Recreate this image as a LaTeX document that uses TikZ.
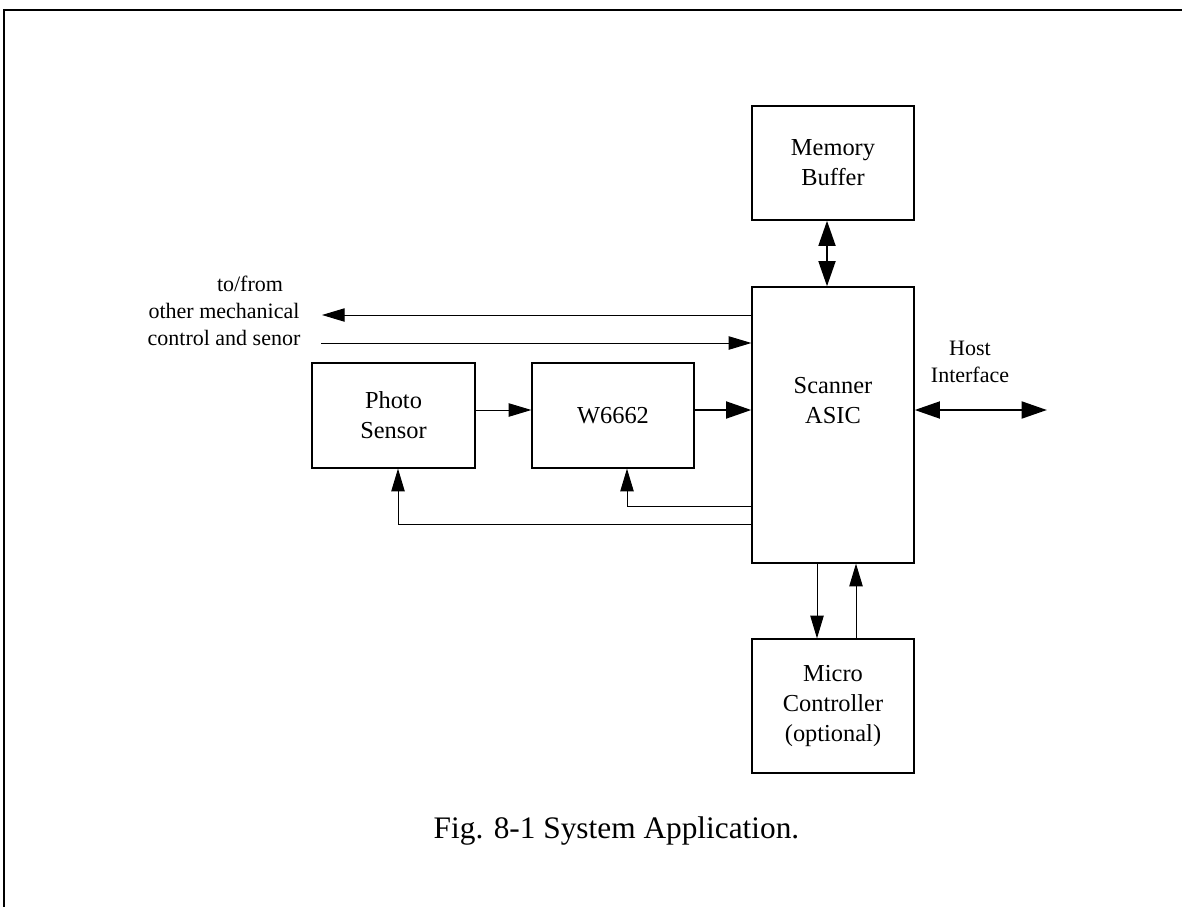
\documentclass[tikz,border=0pt]{standalone}
\usepackage{fontspec}
\setmainfont{Liberation Serif}
\usetikzlibrary{arrows.meta,calc}
\begin{document}
\begin{tikzpicture}[x=0.75pt,y=-0.75pt,
  box/.style={draw,line width=0.9pt,inner sep=0pt,align=center,font=\fontsize{18.3}{22.5}\selectfont},
  lbl/.style={align=center,font=\fontsize{16.5}{20}\selectfont,inner sep=0pt},
  thinarr/.style={line width=0.75pt,-{Triangle[length=17pt,width=10pt]}},
  thickarr/.style={line width=2.2pt,-{Triangle[length=19pt,width=12.5pt]}},
  dblarr/.style={line width=2.2pt,{Triangle[length=19pt,width=12.5pt]}-{Triangle[length=19pt,width=12.5pt]}}
]
\useasboundingbox (0,0) rectangle (1182,907);
\fill[white] (0,0) rectangle (1182,907);
% frame
\draw[line width=1.5pt] (3.5,907) -- (3.5,10) -- (1182,10);
% boxes
\node[box,minimum width=121.5pt,minimum height=85.5pt] (mem) at (833,163) {Memory\\Buffer};
\node[box,minimum width=121.5pt,minimum height=207pt] (asic) at (833,425) {};
\node[lbl,font=\fontsize{18.3}{22.5}\selectfont] (asiclbl) at (833,401) {Scanner\\ASIC};
\node[box,minimum width=121.5pt,minimum height=100.5pt] (micro) at (833,706) {Micro\\Controller\\(optional)};
\node[box,minimum width=122.25pt,minimum height=78.75pt] (photo) at (393.5,415.5) {Photo\\Sensor};
\node[box,minimum width=121.5pt,minimum height=78.75pt] (w) at (613,415.5) {W6662};
% labels
\node[lbl] (ext) at (224,311) {\hspace*{39pt}to/from\\other mechanical\\control and senor};
\node[lbl] (host) at (970,362) {Host\\Interface};
\node[inner sep=0pt,anchor=base,font=\fontsize{23.5}{28}\selectfont] (cap) at (616.5,838) {Fig. 8-1 System Application.};
% coordinates
\coordinate (extL) at (322,315);
\coordinate (extR) at (321,343);
\coordinate (sig) at (0,410);
\coordinate (hostend) at (1047,410);
\coordinate (fbw) at (627,506);
\coordinate (fbp) at (398,524);
\coordinate (dnx) at (817,0);
\coordinate (upx) at (856,0);
\coordinate (memx) at (827,0);
% connectors
\draw[dblarr] (memx |- mem.south) -- (memx |- asic.north);
\draw[thinarr] (extL -| asic.west) -- (extL);
\draw[thinarr] (extR) -- (extR -| asic.west);
\draw[thinarr] (sig -| photo.east) -- (sig -| w.west);
\draw[thickarr] (sig -| w.east) -- (sig -| asic.west);
\draw[dblarr] (sig -| asic.east) -- (hostend);
\draw[thinarr] (fbw -| asic.west) -| (fbw |- w.south);
\draw[thinarr] (fbp -| asic.west) -| (fbp |- photo.south);
\draw[thinarr] (dnx |- asic.south) -- (dnx |- micro.north);
\draw[thinarr] (upx |- micro.north) -- (upx |- asic.south);
\end{tikzpicture}
\end{document}
